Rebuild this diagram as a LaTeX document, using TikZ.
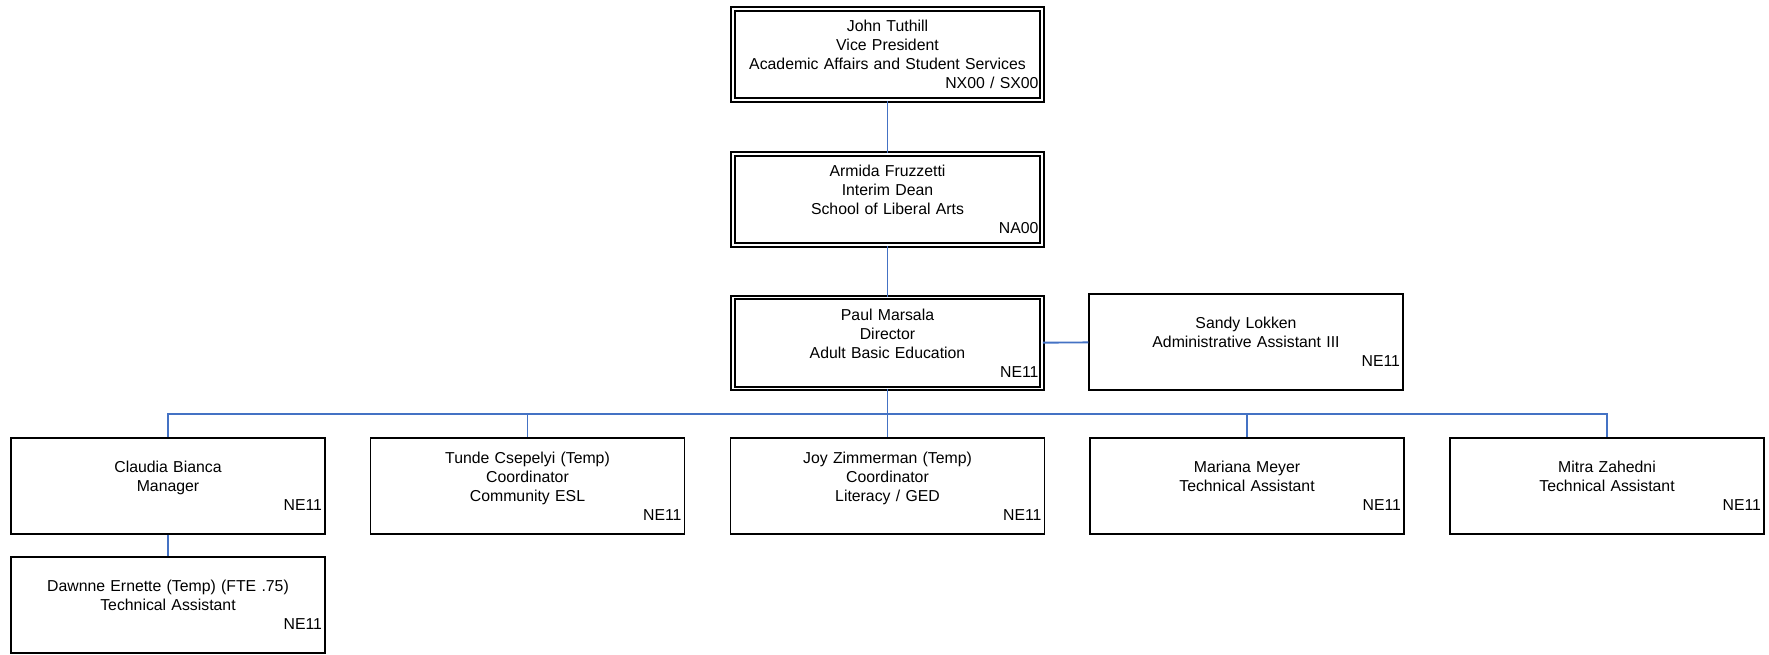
\documentclass[tikz,border=0pt]{standalone}
\usepackage{fontspec}
\setmainfont{Liberation Sans}
\usepackage{tikz}
\usetikzlibrary{calc}

\definecolor{linkblue}{RGB}{68,114,196}

\tikzset{
	person/.style={draw, rectangle, line width=0.8pt, minimum width=6.28cm,
		minimum height=1.92cm, text width=6.16cm, align=center, inner sep=0.06cm,
		font=\fontsize{9}{10.9}\selectfont},
	head/.style={person, double, line width=0.9pt, double distance=1.1pt,
		minimum width=6.18cm, minimum height=1.82cm, text width=6.04cm},
	link/.style={draw=linkblue, line width=1.1pt},
	branch/.style={draw=linkblue, line width=0.9pt}
}

\begin{document}
\begin{tikzpicture}[x=0.02cm, y=-0.02cm]
	\useasboundingbox (0,0) rectangle (1769,654);
	\def \bus {414}
	\def \row {486}

	\node[head] (vp)       at (887.5,54.5)
		{John Tuthill\\Vice President\\Academic Affairs and Student Services\\\hfill NX00 / SX00};
	\node[head] (dean)     at (887.5,199.5)
		{Armida Fruzzetti\\Interim Dean\\School of Liberal Arts\\\hfill NA00};
	\node[head] (director) at (887.5,343)
		{Paul Marsala\\Director\\Adult Basic Education\\\hfill NE11};
	\node[person] (admin)  at (1246,342)
		{Sandy Lokken\\Administrative Assistant III\\\hfill NE11};

	\node[person] (manager) at (168,\row)
		{Claudia Bianca\\Manager\\\hfill NE11};
	\node[person] (esl)     at (527.5,\row)
		{Tunde Csepelyi (Temp)\\Coordinator\\Community ESL\\\hfill NE11};
	\node[person] (ged)     at (887.5,\row)
		{Joy Zimmerman (Temp)\\Coordinator\\Literacy / GED\\\hfill NE11};
	\node[person] (meyer)   at (1247,\row)
		{Mariana Meyer\\Technical Assistant\\\hfill NE11};
	\node[person] (zahedni) at (1607,\row)
		{Mitra Zahedni\\Technical Assistant\\\hfill NE11};

	\node[person] (dawnne)  at (168,605)
		{Dawnne Ernette (Temp) (FTE .75)\\Technical Assistant\\\hfill NE11};

	\coordinate (split) at (887.5,\bus);

	\draw[link] (vp) -- (dean);
	\draw[link] (dean) -- (director);
	\draw[link] (director) -- (admin);
	\draw[link] (director) -- (split);
	\foreach \staff in {manager, esl, ged, meyer, zahedni}
		\draw[branch] (split) -| (\staff.north);
	\draw[link] (manager) -- (dawnne);
\end{tikzpicture}
\end{document}
